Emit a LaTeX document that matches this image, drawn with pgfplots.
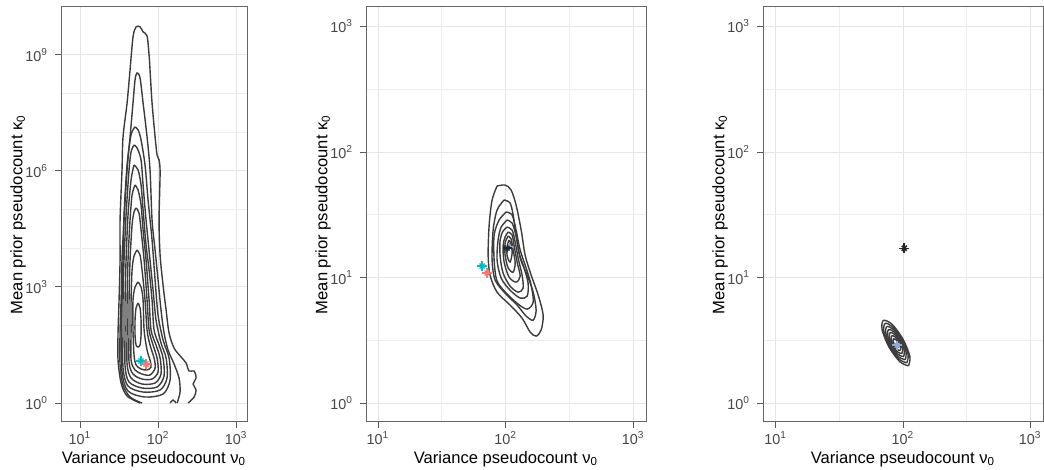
\documentclass[border=0pt]{standalone}
\usepackage{fontspec}
\setmainfont{Liberation Sans}
\usepackage{pgfplots}
\pgfplotsset{compat=1.18}

\definecolor{ggcyan}{HTML}{00BFC4}
\definecolor{ggred}{HTML}{F8766D}
\definecolor{ggblue}{RGB}{140,172,212}
\definecolor{cont}{HTML}{3C3C3C}

\pgfplotsset{
 panel/.style={
   scale only axis,
   height=207.5pt,
   axis line style={black!60, line width=0.5pt},
   tick align=outside,
   major tick length=3pt,
   minor tick length=0pt,
   xtick pos=bottom, ytick pos=left,
   tick style={black!65, line width=0.5pt},
   xtick={1,2,3},
   xticklabels={10\textsuperscript{1},10\textsuperscript{2},10\textsuperscript{3}},
   grid=both,
   major grid style={black!10, line width=0.5pt},
   minor grid style={black!7, line width=0.35pt},
   ticklabel style={font=\fontsize{7.2}{8.4}\selectfont, text=black!72},
   xticklabel style={inner sep=1.5pt},
   xlabel={Variance pseudocount ν\textsubscript{0}},
   ylabel={Mean prior pseudocount κ\textsubscript{0}},
   every axis x label/.style={font=\fontsize{8.3}{9.6}\selectfont, at={(axis description cs:0.5,0)}, anchor=center, yshift=-18.5pt, inner sep=0pt},
   every axis y label/.style={font=\fontsize{8.3}{9.6}\selectfont, at={(axis description cs:0,0.5)}, anchor=center, xshift=-21.5pt, rotate=90, inner sep=0pt},
   every axis plot/.append style={line width=0.7pt},
 },
 cline/.style={cont, no markers, smooth, line width=0.7pt},
 starp/.style={only marks, mark=+, mark size=2.5pt, line width=0.65pt},
 starx/.style={only marks, mark=x, mark size=1.8pt, line width=0.65pt},
}

\begin{document}
\begin{tikzpicture}
\path[use as bounding box] (0,0) rectangle (522pt,235pt);

% ---------------- Panel 1 ----------------
\begin{axis}[panel, at={(30.5pt,24pt)}, anchor=south west, width=93pt,
  xmin=0.756, xmax=3.14, ymin=-0.49, ymax=10.23,
  ytick={0,3,6,9},
  yticklabels={10\textsuperscript{0},10\textsuperscript{3},10\textsuperscript{6},10\textsuperscript{9}},
  minor ytick={1,2,4,5,7,8}, minor xtick={}]
% k1 (outer, open at the bottom)
\addplot[cline] coordinates {(1.769,0) (1.603,0.181) (1.526,0.517) (1.487,1.111) (1.487,1.809) (1.500,2.661) (1.513,3.695) (1.513,4.729) (1.538,6.021) (1.551,6.873) (1.603,7.752) (1.641,8.605) (1.679,9.457) (1.718,9.716) (1.769,9.716) (1.808,9.587) (1.859,9.483) (1.885,8.992) (1.897,8.605) (1.923,7.752) (1.962,6.873) (1.987,6.408) (2.013,6.279) (2.026,5.943) (2.013,4.729) (2.026,3.824) (2.064,3.049) (2.103,2.403) (2.141,1.809) (2.205,1.421) (2.295,1.189) (2.359,1.034) (2.397,0.827) (2.462,0.827) (2.487,0.646) (2.449,0.491) (2.487,0.336) (2.462,0.155) (2.385,0)};
\addplot[cline] coordinates {(2.154,0) (2.192,0.078) (2.231,0)};
% k2
\addplot[cline] coordinates {(1.795,0) (1.641,0.155) (1.551,0.465) (1.513,0.982) (1.513,1.886) (1.526,2.661) (1.538,3.695) (1.564,4.729) (1.603,6.021) (1.641,6.873) (1.679,7.752) (1.705,8.346) (1.731,8.527) (1.769,8.398) (1.808,7.752) (1.859,6.873) (1.897,6.021) (1.923,4.729) (1.962,3.953) (2.000,3.178) (2.038,2.403) (2.077,1.809) (2.128,1.370) (2.205,1.008) (2.269,0.646) (2.282,0.284) (2.244,0)};
% k3
\addplot[cline] coordinates {(1.705,7.132) (1.744,7.054) (1.782,6.796) (1.833,6.150) (1.872,5.245) (1.923,4.212) (1.962,3.178) (2.000,2.274) (2.064,1.628) (2.141,1.163) (2.154,0.594) (2.064,0.233) (1.833,0.155) (1.615,0.310) (1.538,0.801) (1.526,1.886) (1.538,2.661) (1.551,3.695) (1.564,4.858) (1.603,6.150) (1.654,6.925) (1.705,7.132)};
% k4
\addplot[cline] coordinates {(1.692,6.667) (1.731,6.589) (1.782,6.279) (1.808,5.633) (1.846,4.729) (1.897,3.695) (1.936,2.920) (1.974,2.145) (2.038,1.550) (2.103,1.163) (2.115,0.646) (2.026,0.336) (1.808,0.284) (1.615,0.439) (1.551,0.904) (1.551,1.886) (1.551,2.661) (1.564,3.695) (1.590,4.858) (1.628,6.021) (1.654,6.486) (1.692,6.667)};
% k5
\addplot[cline] coordinates {(1.692,6.150) (1.744,6.021) (1.782,5.633) (1.808,4.987) (1.846,4.083) (1.885,3.437) (1.923,2.661) (1.949,1.886) (2.013,1.499) (2.064,1.163) (2.077,0.698) (1.987,0.413) (1.795,0.388) (1.628,0.543) (1.577,0.956) (1.577,1.886) (1.577,2.661) (1.590,3.695) (1.615,4.858) (1.654,5.762) (1.692,6.150)};
% k6
\addplot[cline] coordinates {(1.705,5.633) (1.744,5.504) (1.782,5.116) (1.808,4.470) (1.846,3.695) (1.885,2.661) (1.910,1.886) (1.974,1.499) (2.026,1.163) (2.038,0.749) (1.962,0.517) (1.795,0.491) (1.654,0.646) (1.603,1.008) (1.603,1.886) (1.603,2.661) (1.615,3.695) (1.641,4.729) (1.667,5.375) (1.705,5.633)};
% k7
\addplot[cline] coordinates {(1.718,5.039) (1.756,4.910) (1.782,4.470) (1.821,3.695) (1.859,2.661) (1.885,1.886) (1.936,1.499) (1.987,1.163) (2.000,0.801) (1.923,0.620) (1.795,0.620) (1.679,0.749) (1.628,1.059) (1.628,1.886) (1.628,2.661) (1.641,3.695) (1.667,4.599) (1.692,4.935) (1.718,5.039)};
% k8
\addplot[cline] coordinates {(1.731,3.953) (1.769,3.824) (1.795,3.437) (1.833,2.661) (1.859,1.886) (1.897,1.499) (1.949,1.163) (1.962,0.904) (1.897,0.724) (1.795,0.749) (1.705,0.853) (1.654,1.111) (1.654,1.886) (1.654,2.661) (1.667,3.437) (1.692,3.798) (1.731,3.953)};
% k9
\addplot[cline] coordinates {(1.744,3.127) (1.782,2.997) (1.808,2.661) (1.821,1.886) (1.859,1.370) (1.897,1.111) (1.910,0.930) (1.859,0.853) (1.782,0.879) (1.718,0.982) (1.692,1.240) (1.679,1.886) (1.679,2.661) (1.705,2.997) (1.744,3.127)};
% k10
\addplot[cline] coordinates {(1.744,2.584) (1.769,2.455) (1.782,2.145) (1.782,1.757) (1.769,1.499) (1.744,1.447) (1.718,1.499) (1.705,1.757) (1.705,2.145) (1.718,2.455) (1.744,2.584)};
% estimates
\addplot[starp, ggcyan] coordinates {(1.782,1.085)};
\addplot[starx, ggcyan] coordinates {(1.782,1.085)};
\addplot[starp, ggred] coordinates {(1.846,1.008)};
\addplot[starx, ggred] coordinates {(1.846,1.008)};
\end{axis}

% ---------------- Panel 2 ----------------
\begin{axis}[panel, at={(183pt,24pt)}, anchor=south west, width=140pt,
  xmin=0.906, xmax=3.10, ymin=-0.15, ymax=3.155,
  ytick={0,1,2,3},
  yticklabels={10\textsuperscript{0},10\textsuperscript{1},10\textsuperscript{2},10\textsuperscript{3}},
  minor xtick={1.5,2.5}, minor ytick={0.5,1.5,2.5}]
\addplot[cline] coordinates {(1.933,1.729) (1.996,1.737) (2.043,1.697) (2.082,1.578) (2.122,1.378) (2.153,1.179) (2.200,1.020) (2.255,0.861) (2.294,0.701) (2.278,0.582) (2.239,0.534) (2.192,0.566) (2.129,0.677) (2.035,0.781) (1.933,0.884) (1.878,1.020) (1.863,1.179) (1.871,1.418) (1.894,1.618) (1.933,1.729)};
\addplot[cline] coordinates {(1.988,1.618) (2.035,1.594) (2.059,1.498) (2.082,1.339) (2.114,1.155) (2.169,1.020) (2.216,0.884) (2.239,0.741) (2.216,0.661) (2.161,0.693) (2.090,0.781) (1.996,0.876) (1.918,0.980) (1.894,1.139) (1.902,1.378) (1.933,1.538) (1.988,1.618)};
\addplot[cline] coordinates {(2.004,1.522) (2.051,1.498) (2.082,1.378) (2.114,1.219) (2.161,1.076) (2.200,0.940) (2.216,0.805) (2.169,0.749) (2.098,0.789) (2.012,0.869) (1.933,0.972) (1.910,1.139) (1.910,1.339) (1.949,1.458) (2.004,1.522)};
\addplot[cline] coordinates {(2.012,1.458) (2.051,1.434) (2.082,1.331) (2.106,1.195) (2.145,1.076) (2.176,0.956) (2.169,0.853) (2.114,0.837) (2.035,0.900) (1.965,0.996) (1.933,1.139) (1.941,1.299) (1.965,1.402) (2.012,1.458)};
\addplot[cline] coordinates {(2.012,1.402) (2.051,1.378) (2.075,1.283) (2.098,1.155) (2.129,1.020) (2.137,0.916) (2.098,0.884) (2.035,0.932) (1.980,1.036) (1.957,1.171) (1.957,1.299) (1.980,1.371) (2.012,1.402)};
\addplot[cline] coordinates {(2.020,1.363) (2.051,1.339) (2.067,1.251) (2.090,1.124) (2.114,1.012) (2.082,0.964) (2.027,1.004) (1.988,1.124) (1.980,1.251) (1.996,1.323) (2.020,1.363)};
\addplot[cline] coordinates {(2.020,1.331) (2.043,1.307) (2.059,1.219) (2.075,1.116) (2.059,1.044) (2.020,1.076) (1.996,1.179) (1.996,1.275) (2.020,1.331)};
\addplot[cline] coordinates {(2.027,1.299) (2.043,1.267) (2.051,1.195) (2.035,1.124) (2.012,1.171) (2.012,1.251) (2.027,1.299)};
\addplot[starp, ggcyan] coordinates {(1.816,1.092)};
\addplot[starx, ggcyan] coordinates {(1.816,1.092)};
\addplot[starp, ggred] coordinates {(1.855,1.036)};
\addplot[starx, ggred] coordinates {(1.855,1.036)};
\addplot[starp, ggblue, mark size=1.8pt] coordinates {(2.027,1.243)};
\addplot[starx, ggblue, mark size=1.3pt] coordinates {(2.027,1.243)};
\addplot[starp, black!85, mark size=2.2pt] coordinates {(2.012,1.235)};
\addplot[starx, black!85, mark size=1.6pt] coordinates {(2.012,1.235)};
\end{axis}

% ---------------- Panel 3 ----------------
\begin{axis}[panel, at={(381.5pt,24pt)}, anchor=south west, width=140pt,
  xmin=0.90, xmax=3.10, ymin=-0.15, ymax=3.155,
  ytick={0,1,2,3},
  yticklabels={10\textsuperscript{0},10\textsuperscript{1},10\textsuperscript{2},10\textsuperscript{3}},
  minor xtick={1.5,2.5}, minor ytick={0.5,1.5,2.5}]
\addplot[cline] coordinates {(2.044,0.297) (2.054,0.372) (2.001,0.508) (1.915,0.627) (1.846,0.659) (1.836,0.584) (1.889,0.448) (1.976,0.329) (2.044,0.297)};
\addplot[cline] coordinates {(2.030,0.321) (2.040,0.386) (1.994,0.505) (1.919,0.607) (1.860,0.635) (1.850,0.570) (1.896,0.451) (1.971,0.349) (2.030,0.321)};
\addplot[cline] coordinates {(2.017,0.346) (2.025,0.401) (1.987,0.501) (1.924,0.587) (1.873,0.610) (1.865,0.555) (1.903,0.455) (1.966,0.369) (2.017,0.346)};
\addplot[cline] coordinates {(2.004,0.370) (2.011,0.415) (1.980,0.497) (1.928,0.568) (1.886,0.586) (1.879,0.541) (1.910,0.459) (1.962,0.388) (2.004,0.370)};
\addplot[cline] coordinates {(1.991,0.395) (1.997,0.430) (1.973,0.493) (1.933,0.548) (1.899,0.562) (1.893,0.527) (1.917,0.463) (1.957,0.408) (1.991,0.395)};
\addplot[cline] coordinates {(1.977,0.419) (1.983,0.444) (1.966,0.489) (1.937,0.528) (1.913,0.537) (1.907,0.512) (1.924,0.467) (1.953,0.428) (1.977,0.419)};
\addplot[cline] coordinates {(1.964,0.443) (1.968,0.459) (1.959,0.486) (1.941,0.508) (1.926,0.513) (1.922,0.497) (1.931,0.470) (1.949,0.448) (1.964,0.443)};
\addplot[starp, ggblue, mark size=2.3pt] coordinates {(1.953,0.462)};
\addplot[starx, ggblue, mark size=1.65pt] coordinates {(1.953,0.462)};
\addplot[starp, black!85, line width=0.8pt] coordinates {(2.010,1.233)};
\addplot[starx, black!85, line width=0.8pt] coordinates {(2.010,1.233)};
\end{axis}
\end{tikzpicture}
\end{document}
